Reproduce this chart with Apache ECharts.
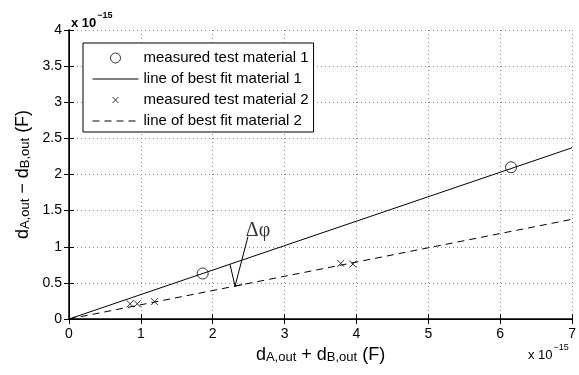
<!DOCTYPE html>
<html>
<head>
<meta charset="utf-8">
<script src="https://cdn.jsdelivr.net/npm/echarts@6/dist/echarts.min.js"></script>
<style>
  html, body { margin: 0; padding: 0; background: #fff; }
  #chart { width: 579px; height: 375px; }
</style>
</head>
<body>
<div id="chart"></div>
<script>
// values in units of 1e-15 F
var material1Points = [[1.86, 0.63], [6.15, 2.10]]
var material1Fit = [[0, 0], [7, 2.37]]
var material2Points = [[0.85, 0.21], [0.95, 0.21], [1.19, 0.24], [3.78, 0.77], [3.95, 0.76]]
var material2Fit = [[0, 0], [7, 1.38]]
// angle annotation (data coordinates)
var angleHook = [[2.24, 0.757], [2.31, 0.455], [2.41, 0.475]]
var angleLeader = [[2.49, 1.14], [2.31, 0.455]]
var angleLabelAt = [[2.63, 1.22]]
var seriesNames = ['measured test material 1', 'line of best fit material 1', 'measured test material 2', 'line of best fit material 2']

var font = 'Liberation Sans, Arial, Helvetica, sans-serif'
var crossPath = 'path://M0,0L10,10M10,0L0,10'

// legend icons drawn inside a 46x15 box
var legendCircle = 'path://M0,0L0,0M28,7.5A5,5,0,1,1,18,7.5A5,5,0,1,1,28,7.5M46,15L46,15'
var legendCross = 'path://M0,0L0,0M20,4.5L26,10.5M26,4.5L20,10.5M46,15L46,15'
var legendLine = 'path://M0,0L0,0M0,7.5L46,7.5M46,15L46,15'
var iconStyle = { color: 'rgba(0,0,0,0)', borderColor: '#000', borderWidth: 1 }

var chart = echarts.init(document.getElementById('chart'))

var tickStyle = { inside: true, length: 5, lineStyle: { color: '#000' } }
var gridLine = { show: true, lineStyle: { color: '#888', type: [1, 3], width: 1 } }
var nameRich = {
  d: { fontSize: 18, color: '#000', fontFamily: font, verticalAlign: 'bottom' },
  t: { fontSize: 18, color: '#000', fontFamily: font, verticalAlign: 'bottom' },
  s: { fontSize: 13, color: '#000', fontFamily: font, verticalAlign: 'top', padding: [11, 0, 0, 0] }
}
var expRich = {
  a: { fontSize: 13, fontFamily: font, color: '#000', fill: '#000', verticalAlign: 'bottom', padding: [6, 0, 0, 0] },
  b: { fontSize: 9, fontFamily: font, color: '#000', fill: '#000', verticalAlign: 'top', padding: [0, 0, 6, 1] }
}

chart.setOption({
  animation: false,
  textStyle: { fontFamily: font },
  title: {
    text: '{a|x 10}{b|−15}',
    left: 66,
    top: 6,
    textStyle: { rich: expRich }
  },
  graphic: [{
    type: 'text',
    left: 528,
    top: 343,
    style: { text: '{a|x 10}{b|−15}', rich: expRich }
  }],
  grid: { left: 69, right: 5, top: 30, bottom: 56 },
  legend: {
    data: [
      { name: seriesNames[0], icon: legendCircle, itemStyle: iconStyle },
      { name: seriesNames[1], icon: legendLine, itemStyle: iconStyle },
      { name: seriesNames[2], icon: legendCross, itemStyle: iconStyle },
      { name: seriesNames[3], icon: legendLine, itemStyle: { color: 'rgba(0,0,0,0)', borderColor: '#000', borderWidth: 1, borderType: [7, 5] } }
    ],
    orient: 'vertical',
    left: 83,
    top: 43,
    padding: [7, 5, 3, 9],
    itemWidth: 46,
    itemHeight: 15,
    itemGap: 5,
    backgroundColor: '#fff',
    borderColor: '#000',
    borderWidth: 1,
    borderRadius: 0,
    textStyle: { fontSize: 15, lineHeight: 15, color: '#000', fontFamily: font }
  },
  xAxis: [{
    type: 'value',
    min: 0,
    max: 7,
    interval: 1,
    name: '{d|d}{s|A,out}{t| + }{d|d}{s|B,out}{t| (F)}',
    nameLocation: 'middle',
    nameGap: 21,
    nameTextStyle: { rich: nameRich },
    axisLine: { lineStyle: { color: '#000', width: 1.5 } },
    axisTick: tickStyle,
    axisLabel: { color: '#000', fontSize: 14, margin: 8 },
    splitLine: gridLine
  }, {
    type: 'value',
    position: 'top',
    min: 0,
    max: 7,
    interval: 1,
    axisLine: { show: true, lineStyle: { color: '#000' } },
    axisTick: tickStyle,
    axisLabel: { show: false },
    splitLine: { show: false }
  }],
  yAxis: [{
    type: 'value',
    min: 0,
    max: 4,
    interval: 0.5,
    name: '{d|d}{s|A,out}{t| − }{d|d}{s|B,out}{t| (F)}',
    nameLocation: 'middle',
    nameGap: 31,
    nameTextStyle: { rich: nameRich },
    axisLine: { show: true, lineStyle: { color: '#000', width: 1.5 } },
    axisTick: tickStyle,
    axisLabel: { color: '#000', fontSize: 14, margin: 7 },
    splitLine: gridLine
  }, {
    type: 'value',
    position: 'right',
    min: 0,
    max: 4,
    interval: 0.5,
    axisLine: { show: true, lineStyle: { color: '#000' } },
    axisTick: tickStyle,
    axisLabel: { show: false },
    splitLine: { show: false }
  }],
  series: [{
    name: seriesNames[1],
    type: 'line',
    data: material1Fit,
    symbol: 'none',
    lineStyle: { color: '#000', width: 1 },
    itemStyle: { color: '#000' },
    z: 3
  }, {
    name: seriesNames[3],
    type: 'line',
    data: material2Fit,
    symbol: 'none',
    lineStyle: { color: '#000', width: 1, type: [7, 5] },
    itemStyle: { color: '#000' },
    z: 3
  }, {
    name: seriesNames[0],
    type: 'scatter',
    data: material1Points,
    symbol: 'circle',
    symbolSize: 11,
    itemStyle: { color: 'rgba(0,0,0,0)', borderColor: '#000', borderWidth: 1 },
    z: 4
  }, {
    name: seriesNames[2],
    type: 'scatter',
    data: material2Points,
    symbol: crossPath,
    symbolSize: 7,
    itemStyle: { color: 'rgba(0,0,0,0)', borderColor: '#000', borderWidth: 1 },
    z: 4
  }, {
    type: 'line',
    data: angleHook,
    symbol: 'none',
    lineStyle: { color: '#000', width: 1 },
    silent: true,
    z: 4
  }, {
    type: 'line',
    data: angleLeader,
    symbol: 'none',
    lineStyle: { color: '#000', width: 1 },
    silent: true,
    z: 4
  }, {
    type: 'scatter',
    data: angleLabelAt,
    symbolSize: 0,
    silent: true,
    label: {
      show: true,
      position: 'inside',
      formatter: 'Δφ',
      color: '#000',
      fontSize: 20,
      fontFamily: 'Liberation Serif, DejaVu Serif, serif'
    }
  }]
})
</script>
</body>
</html>
